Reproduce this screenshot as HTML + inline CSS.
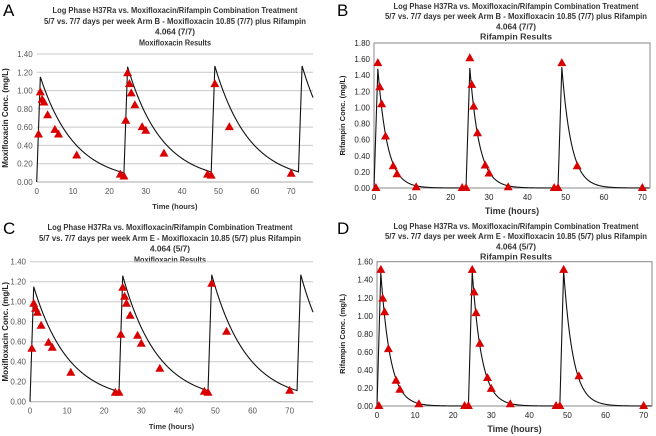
<!DOCTYPE html>
<html><head><meta charset="utf-8"><style>
body{margin:0;background:#fff;width:656px;height:436px;overflow:hidden}
svg{display:block;font-family:"Liberation Sans",sans-serif}
</style></head><body>
<svg id="s" width="656" height="436"></svg>
<script>
// ---- data ----
const moxiTimesA=[0.5,1,1.5,2,3,5,6,11,23,24,24.5,25,25.5,26,27,29,30,35,47,48,49,53,70];
const moxiValsA=[0.52,0.98,0.9,0.87,0.73,0.57,0.52,0.29,0.08,0.06,0.67,1.19,1.07,0.97,0.84,0.6,0.56,0.31,0.08,0.07,1.07,0.6,0.09];
const rifTimesB=[0.5,1,1.5,2,3,5,6,11,23,24,25,25.5,26,27,29,30,35,47,48,49,53,70];
const rifValsB=[0,1.55,1.25,1.04,0.64,0.27,0.17,0.01,0,0,1.61,1.28,1.01,0.68,0.28,0.18,0.01,0,0,1.55,0.27,0];
const moxiTimesC=[0.5,1,1.5,2,3,5,6,11,23,24,24.5,25,25.5,26,27,29,30,35,47,48,49,53,70];
const moxiValsC=[0.53,0.98,0.93,0.89,0.76,0.59,0.54,0.29,0.09,0.09,0.67,1.14,1.05,0.98,0.86,0.66,0.58,0.33,0.1,0.09,1.18,0.7,0.11];
const rifTimesD=[0.5,1,1.5,2,3,5,6,11,23,24,25,25.5,26,27,29,30,35,47,48,49,53,70];
const rifValsD=[0,1.51,1.19,1.04,0.63,0.28,0.18,0.02,0,0,1.51,1.26,1.03,0.69,0.31,0.19,0.02,0,0,1.51,0.33,0];
const moxiDoseTimes=[0,24,48,72];
const moxiDoseAmt=[1.15,1.17,1.17,1.17];
const rifDoseTimes=[0,24,48];
const rifDoseAmt=[1.48,1.49,1.5];
const moxiTicksY=[0,0.2,0.4,0.6,0.8,1.0,1.2,1.4];
const rifTicksYB=[0,0.2,0.4,0.6,0.8,1.0,1.2,1.4,1.6,1.8];
const rifTicksYD=[0,0.2,0.4,0.6,0.8,1.0,1.2,1.4,1.6];
const ticksX=[0,10,20,30,40,50,60,70];

const NS='http://www.w3.org/2000/svg';
const svg=document.getElementById('s');
function mk(tag,attrs,parent,text){const e=document.createElementNS(NS,tag);for(const k in attrs)e.setAttribute(k,attrs[k]);if(text!=null)e.textContent=text;(parent||svg).appendChild(e);return e;}

function model(t,doses,amts,k){let c=0;for(let i=0;i<doses.length;i++){const d=doses[i];if(t<d)continue;const dt=t-d;c+= dt<1? amts[i]*dt : amts[i]*Math.exp(-k*(dt-1));}return c;}

const titleLens=[245,262,40,72];

function panel(o){
  const g=mk('g',{});
  
  
  const X=t=>o.x0+(t-0)*(o.x1-o.x0)/(o.xmax);
  const Y=v=>o.y0-(v/o.ymax)*(o.y0-o.y1);
  const L=mk('text',{x:o.lx,y:o.ly,'font-size':17,fill:'#000'},g,o.letter);
  
  o.title.forEach((s,i)=>{const t=mk('text',{x:o.tx,y:o.ty+i*o.tdy,'font-size':8,'font-weight':'bold','text-anchor':'middle',fill:'#333',textLength:titleLens[i],lengthAdjust:'spacingAndGlyphs'},g,s);
    });
  o.ticksY.forEach(v=>{
    if(o.grid&&v>0){const l=mk('line',{x1:o.x0,x2:o.x1,y1:Y(v),y2:Y(v),stroke:'#c8c8c8','stroke-width':1},g);
      }
    const t=mk('text',{x:o.x0-4,y:Y(v)+3,'font-size':8,'text-anchor':'end',fill:o.grid?'#555':'#222'},g,v.toFixed(2));
    
  });
  if(o.grid){mk('line',{x1:o.x0,x2:o.x1,y1:o.y0,y2:o.y0,stroke:'#aaa'},g);}
  else{const r=mk('rect',{x:o.x0,y:o.y1,width:o.x1-o.x0,height:o.y0-o.y1,fill:'none',stroke:'#888'},g);
    }
  ticksX.forEach(v=>{const t=mk('text',{x:X(v),y:o.y0+12,'font-size':8,'text-anchor':'middle',fill:o.grid?'#555':'#222'},g,String(v));
    });
  const xt=mk('text',{x:(o.x0+o.x1)/2,y:o.xty,'font-size':o.grid?7.5:9,'font-weight':'bold','text-anchor':'middle',fill:'#333'},g,o.xtitle);
  
  const cy=(o.y0+o.y1)/2;
  const yt=mk('text',{x:o.ytx,y:cy,'font-size':o.grid?8:7.5,'font-weight':'bold','text-anchor':'middle',fill:'#222',transform:`rotate(-90 ${o.ytx} ${cy})`},g,o.ytitle);
  
  let d='';for(let t=0;t<=o.xmax;t+=0.1){d+=(t===0?'M':'L')+X(t).toFixed(2)+','+Y(model(t,o.doses,o.amts,o.k)).toFixed(2);}
  const p=mk('path',{d:d,fill:'none',stroke:'#111','stroke-width':1.1},g);
  
  o.times.forEach((t,i)=>{const x=X(t),y=Y(o.vals[i]);
    const tri=mk('polygon',{points:`${x},${y-5} ${x-4.5},${y+3} ${x+4.5},${y+3}`,fill:'#d90000'},g);
    });
}

const tA=["Log Phase H37Ra vs. Moxifloxacin/Rifampin Combination   Treatment","5/7 vs. 7/7 days per week  Arm B -  Moxifloxacin 10.85 (7/7) plus Rifampin","4.064 (7/7)","Moxifloxacin Results"];
const tB=["Log Phase H37Ra vs. Moxifloxacin/Rifampin Combination  Treatment","5/7 vs. 7/7 days per week Arm B -  Moxifloxacin 10.85 (7/7) plus Rifampin","4.064 (7/7)","Rifampin Results"];
const tC=["Log Phase H37Ra vs. Moxifloxacin/Rifampin Combination   Treatment","5/7 vs. 7/7 days per week Arm E -  Moxifloxacin 10.85 (5/7) plus Rifampin","4.064 (5/7)","Moxifloxacin Results"];
const tD=["Log Phase H37Ra vs. Moxifloxacin/Rifampin Combination  Treatment","5/7 vs. 7/7 days per week Arm E -  Moxifloxacin 10.85 (5/7) plus Rifampin","4.064 (5/7)","Rifampin Results"];

panel({name:'panel-a',letter:'A',lx:3,ly:16,title:tA,tx:175,ty:13,tdy:10.8,x0:36.7,x1:313,xmax:76,y0:182,y1:54,ymax:1.4,ticksY:moxiTicksY,grid:true,
  xtitle:'Time (hours)',xty:209,ytitle:'Moxifloxacin Conc. (mg/L)',ytx:8,times:moxiTimesA,vals:moxiValsA,doses:moxiDoseTimes,amts:moxiDoseAmt,k:0.106});
panel({name:'panel-b',letter:'B',lx:337,ly:16,title:tB,tx:516,ty:9,tdy:10.2,x0:374,x1:650,xmax:72,y0:188,y1:43,ymax:1.8,ticksY:rifTicksYB,grid:false,
  xtitle:'Time  (hours)',xty:214,ytitle:'Rifampin Conc. (mg/L)',ytx:345,times:rifTimesB,vals:rifValsB,doses:rifDoseTimes,amts:rifDoseAmt,k:0.4});
panel({name:'panel-c',letter:'C',lx:3,ly:234,title:tC,tx:170,ty:230,tdy:10.8,x0:30,x1:313,xmax:76.3,y0:401.7,y1:261.7,ymax:1.4,ticksY:moxiTicksY,grid:true,
  xtitle:'Time (hours)',xty:429,ytitle:'Moxifloxacin Conc. (mg/L)',ytx:8,times:moxiTimesC,vals:moxiValsC,doses:moxiDoseTimes,amts:moxiDoseAmt,k:0.106});
panel({name:'panel-d',letter:'D',lx:337,ly:234,title:tD,tx:516,ty:229,tdy:10.2,x0:377,x1:652,xmax:72.2,y0:406,y1:261.7,ymax:1.6,ticksY:rifTicksYD,grid:false,
  xtitle:'Time  (hours)',xty:432,ytitle:'Rifampin Conc. (mg/L)',ytx:345,times:rifTimesD,vals:rifValsD,doses:rifDoseTimes,amts:rifDoseAmt,k:0.4});
</script>
</body></html>
